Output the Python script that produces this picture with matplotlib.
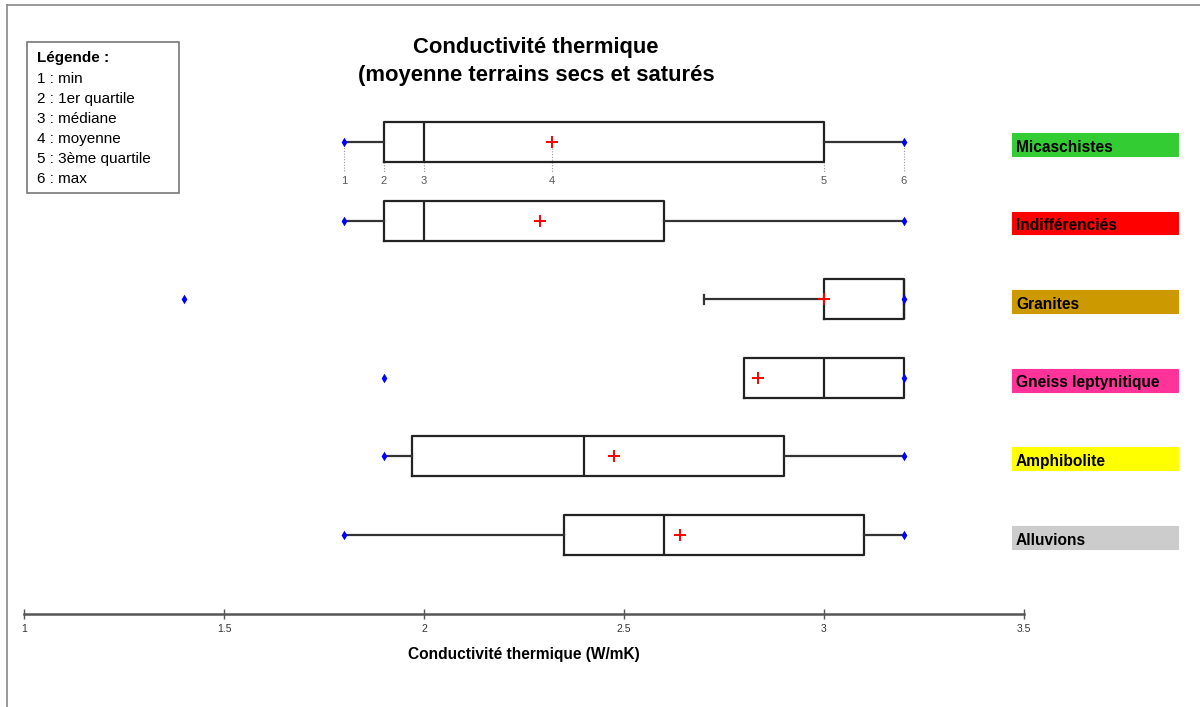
import matplotlib
matplotlib.use("Agg")
import matplotlib.pyplot as plt
from matplotlib.patches import Rectangle
from matplotlib.lines import Line2D
from matplotlib.transforms import blended_transform_factory

# ---- data (top to bottom) ----
categories = ["Micaschistes", "Indifférenciés", "Granites",
              "Gneiss leptynitique", "Amphibolite", "Alluvions"]
cat_colors = ["#33CC33", "#FF0000", "#CC9900", "#FF3399", "#FFFF00", "#CCCCCC"]
mins = [1.8, 1.8, 1.4, 1.9, 1.9, 1.8]
q1s = [1.9, 1.9, 3.0, 2.8, 1.97, 2.35]
medians = [2.0, 2.0, 3.2, 3.0, 2.4, 2.6]
means = [2.32, 2.29, 3.0, 2.835, 2.475, 2.64]
q3s = [3.0, 2.6, 3.2, 3.2, 2.9, 3.1]
maxs = [3.2, 3.2, 3.2, 3.2, 3.2, 3.2]
whisk_lo = [1.8, 1.8, 2.7, 2.8, 1.9, 1.8]
cap_rows = [False, False, True, False, False, False]
xticks = [1, 1.5, 2, 2.5, 3, 3.5]
xticklabels = ["1", "1.5", "2", "2.5", "3", "3.5"]
legend_lines = ["1 : min", "2 : 1er quartile", "3 : médiane", "4 : moyenne",
                "5 : 3ème quartile", "6 : max"]
point_labels = ["1", "2", "3", "4", "5", "6"]

plt.rcParams['font.family'] = ['Liberation Sans', 'DejaVu Sans']
NARROW = ['Liberation Sans Narrow', 'Liberation Sans', 'DejaVu Sans']

fig = plt.figure(figsize=(12, 7.07), dpi=100)
ax = fig.add_axes([0.02, 0.1321, 0.8333, 0.767])
ax.set_xlim(1, 3.5)
ax.set_ylim(-1.0, 5.9)

n = len(categories)
ypos = [n - 1 - i for i in range(n)]
stats = []
for i in range(n):
    stats.append(dict(med=medians[i], q1=q1s[i], q3=q3s[i], mean=means[i],
                      whislo=whisk_lo[i], whishi=maxs[i], fliers=[],
                      label=categories[i]))
capw = [0.12 if c else 0.0 for c in cap_rows]
ax.bxp(stats, positions=ypos, widths=0.51, orientation='horizontal',
       showmeans=True, showcaps=True, capwidths=capw, showfliers=False,
       boxprops=dict(color="#222222", linewidth=1.6),
       whiskerprops=dict(color="#333333", linewidth=1.6),
       capprops=dict(color="#333333", linewidth=1.6),
       medianprops=dict(color="#222222", linewidth=1.6),
       meanprops=dict(marker='+', markeredgecolor='red', markersize=9,
                      markeredgewidth=1.4, linestyle='none'),
       manage_ticks=False)

# min / max dots
ax.scatter(mins, ypos, marker='d', s=24, color='blue', zorder=5, linewidths=0)
ax.scatter(maxs, ypos, marker='d', s=24, color='blue', zorder=5, linewidths=0)

# annotation of the first row
r = 0
yrow = ypos[r]
ybot = yrow - 0.255
yend = yrow - 0.38
ylab = yrow - 0.50
pts = [mins[r], q1s[r], medians[r], means[r], q3s[r], maxs[r]]
starts = [yrow, ybot, ybot, yrow - 0.08, ybot, yrow]
for xv, ys, lab in zip(pts, starts, point_labels):
    ax.plot([xv, xv], [ys, yend], linestyle=(0, (1, 1.5)), color="#999999",
            linewidth=0.8, zorder=1)
    ax.text(xv, ylab, lab, ha='center', va='center', fontsize=8,
            color="#555555", family=NARROW)

# axes styling
for s in ['top', 'right', 'left']:
    ax.spines[s].set_visible(False)
ax.spines['bottom'].set_color("#555555")
ax.spines['bottom'].set_linewidth(1.8)
ax.set_yticks([])
ax.set_xticks(xticks)
ax.set_xticklabels(xticklabels, family=NARROW, fontsize=7.5, color="#333333")
ax.tick_params(axis='x', direction='inout', length=7, width=1, color="#555555", pad=4)
ax.set_xlabel("Conductivité thermique (W/mK)", fontsize=11.2, fontweight='bold',
              family=NARROW, labelpad=9)
ax.patch.set_alpha(0)

# category label boxes
tr = blended_transform_factory(fig.transFigure, ax.transData)
bx0 = 1012 / 1200
bw = 166 / 1200
for i, (cat, col) in enumerate(zip(categories, cat_colors)):
    y = ypos[i] - 0.03
    ax.add_patch(Rectangle((bx0, y - 0.145), bw, 0.29, transform=tr,
                           facecolor=col, edgecolor=col, linewidth=0.8,
                           clip_on=False, zorder=3))
    ax.text(bx0 + 4 / 1200, y - 0.035, cat, transform=tr, ha='left', va='center',
            fontsize=11.2, fontweight='bold', color='black', zorder=4,
            clip_on=False)

# title
fig.text(536 / 1200, 1 - 47 / 707, "Conductivité thermique", ha='center',
         va='center', fontsize=15.8, fontweight='bold')
fig.text(536 / 1200, 1 - 75 / 707, "(moyenne terrains secs et saturés",
         ha='center', va='center', fontsize=15.8, fontweight='bold')

# legend box
fig.add_artist(Rectangle((27 / 1200, 1 - 193 / 707), 152 / 1200, 151 / 707,
                         transform=fig.transFigure, facecolor='white',
                         edgecolor="#777777", linewidth=1.2))
fig.text(37 / 1200, 1 - 58 / 707, "Légende :", ha='left', va='center',
         fontsize=11, fontweight='bold')
for k, line in enumerate(legend_lines):
    fig.text(37 / 1200, 1 - (79 + 20 * k) / 707, line, ha='left', va='center',
             fontsize=11)

# outer frame (top and left)
fig.add_artist(Line2D([7 / 1200, 1.0], [1 - 5 / 707, 1 - 5 / 707],
                      transform=fig.transFigure, color="#888888", linewidth=1.2))
fig.add_artist(Line2D([7 / 1200, 7 / 1200], [0, 1 - 5 / 707],
                      transform=fig.transFigure, color="#888888", linewidth=1.2))

fig.savefig("out.png", dpi=100)
